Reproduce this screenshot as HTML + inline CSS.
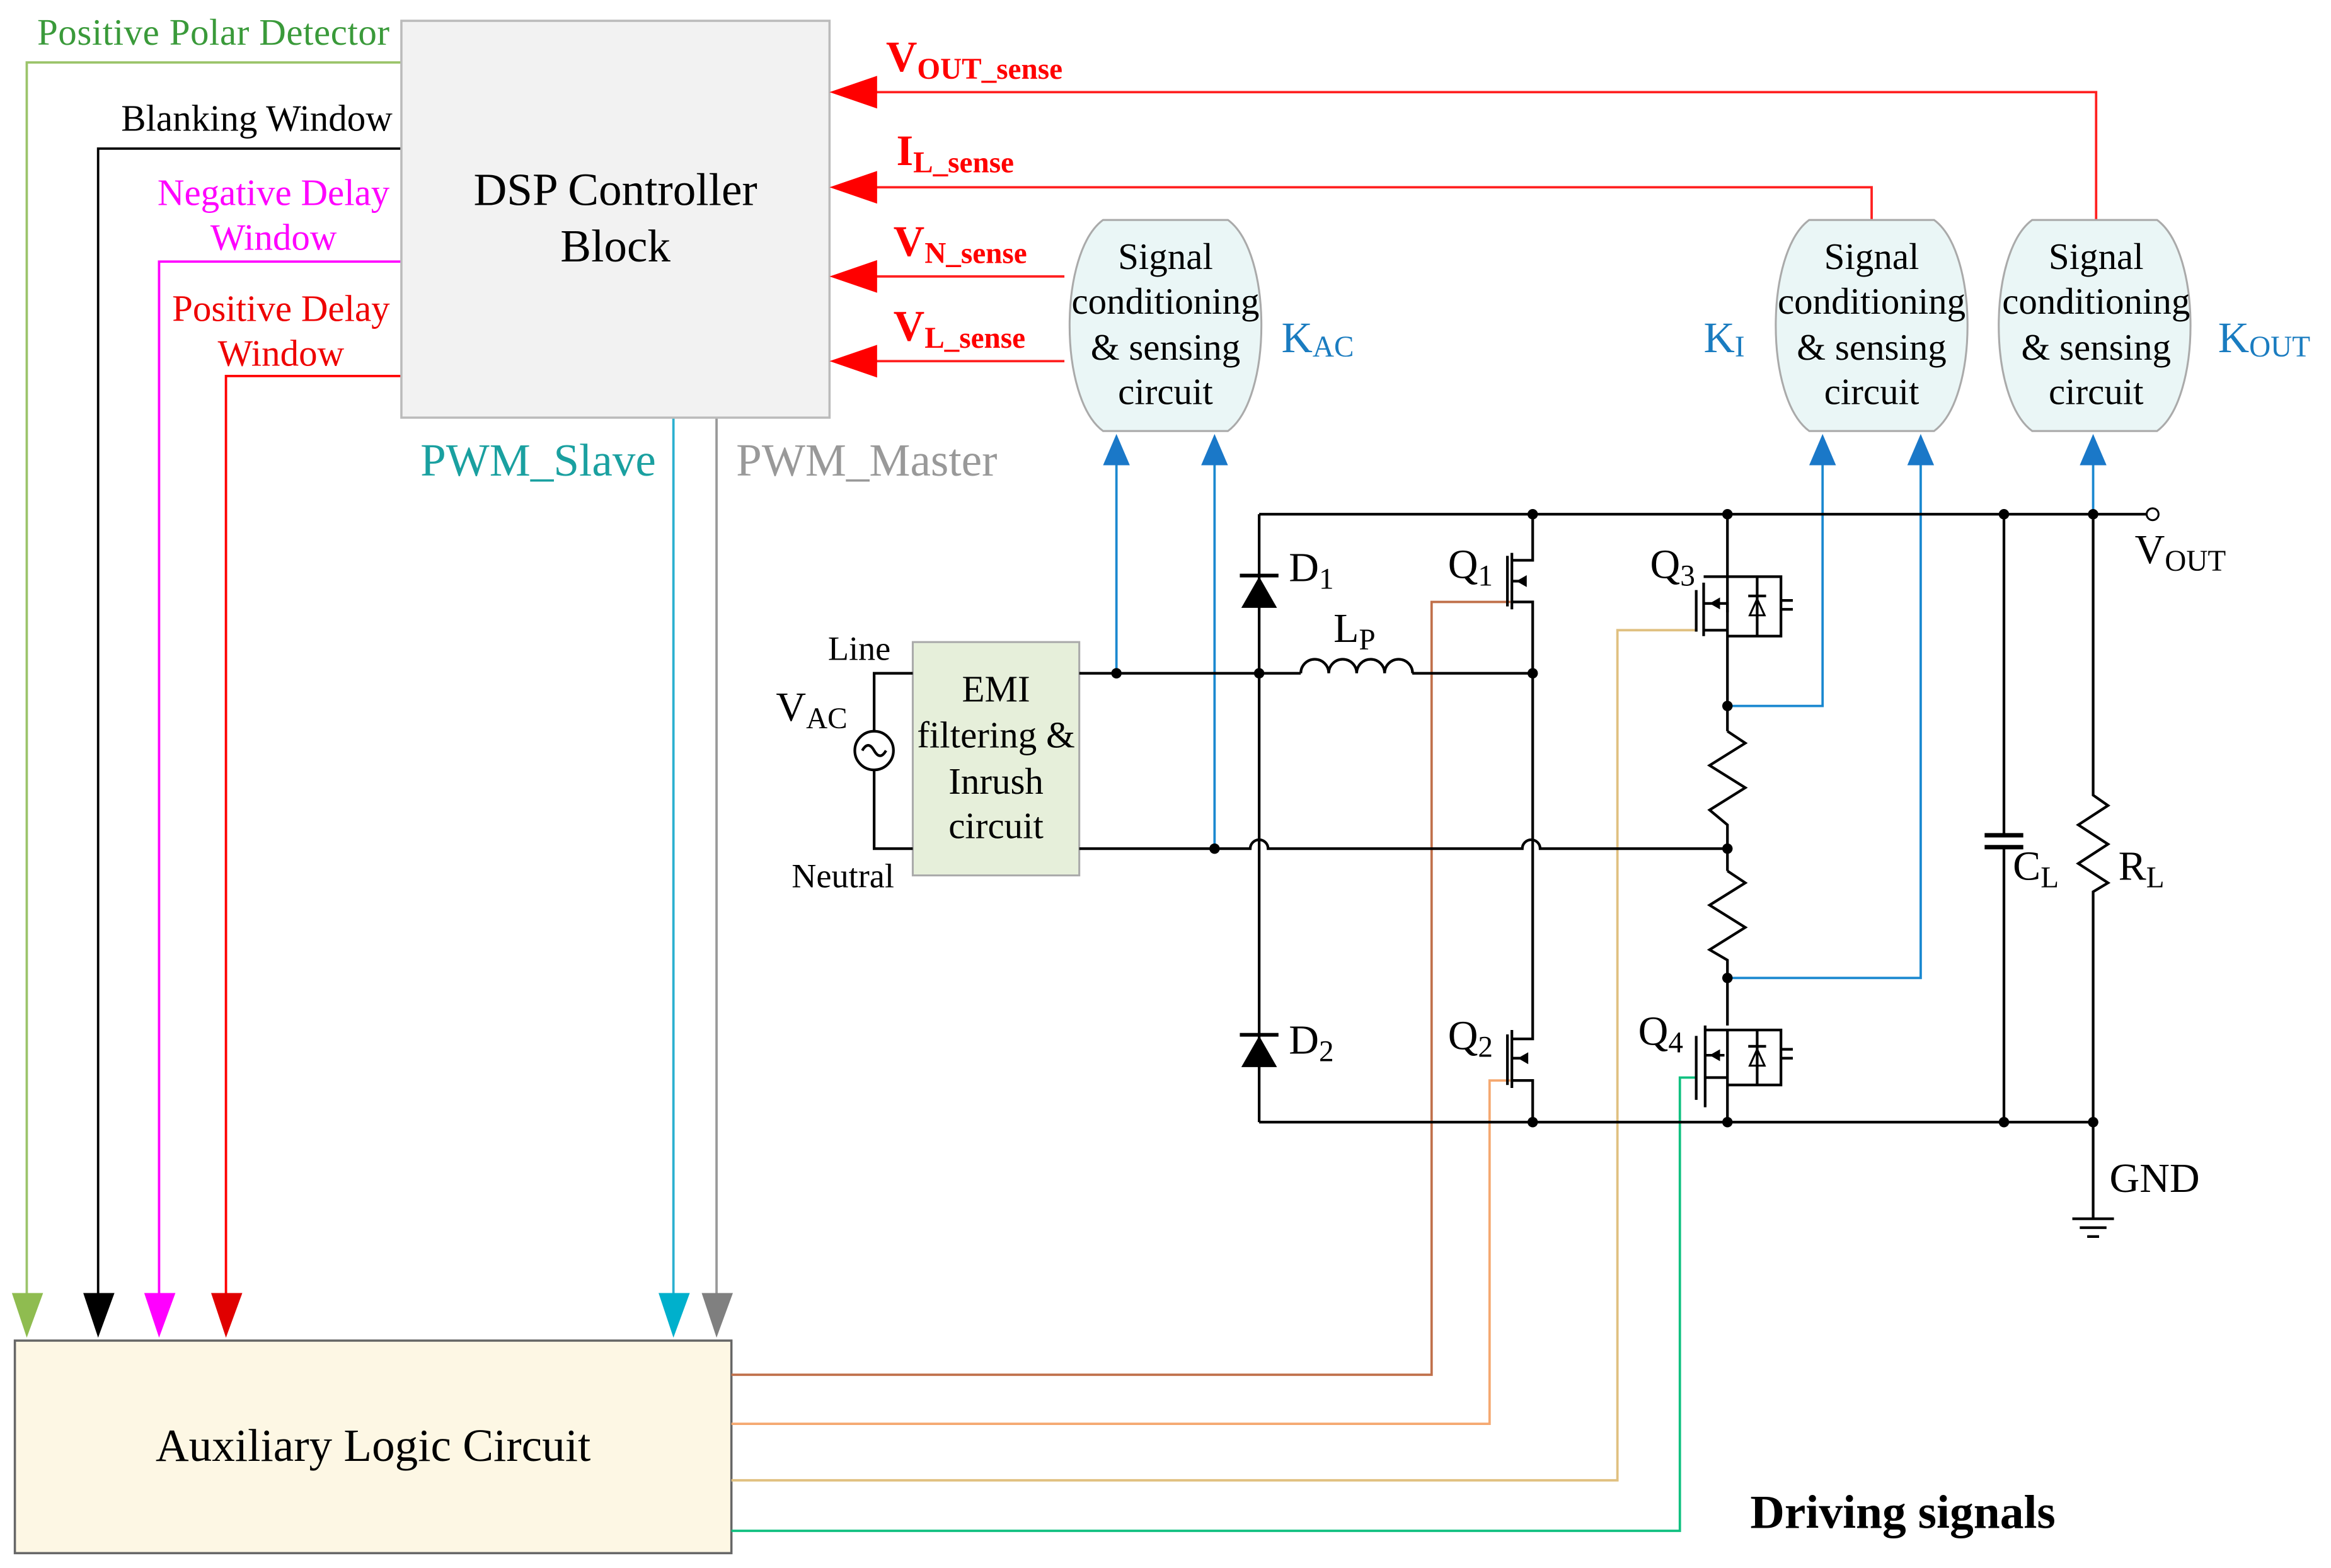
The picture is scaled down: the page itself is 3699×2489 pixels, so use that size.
<!DOCTYPE html>
<html><head><meta charset="utf-8"><style>
html,body{margin:0;padding:0;background:#fff}
svg{display:block}
text{font-family:"Liberation Serif",serif}
</style></head><body>
<svg width="3699" height="2489" viewBox="0 0 1568 1055" preserveAspectRatio="none" xmlns="http://www.w3.org/2000/svg" font-family="Liberation Serif, serif">
<rect width="1568" height="1055" fill="#fff"/>
<g fill="none" stroke-width="1.6">
<polyline points="270,42 18,42 18,872" stroke="#9bc46a"/>
<polyline points="270,100 66,100 66,872" stroke="#000"/>
<polyline points="270,176 107,176 107,872" stroke="#ff00ff"/>
<polyline points="270,253 152,253 152,872" stroke="#ff0000"/>
<line x1="453" y1="281" x2="453" y2="872" stroke="#2ab0d0"/>
<line x1="482" y1="281" x2="482" y2="872" stroke="#999"/>
</g>
<polygon points="8,870 29,870 18,900" fill="#8fbc50"/>
<polygon points="56,870 77,870 66,900" fill="#000"/>
<polygon points="97,870 118,870 107,900" fill="#ff00ff"/>
<polygon points="142,870 163,870 152,900" fill="#e00000"/>
<polygon points="443,870 464,870 453,900" fill="#00b0cc"/>
<polygon points="472,870 493,870 482,900" fill="#808080"/>
<rect x="270" y="14" width="288" height="267" fill="#f2f2f2" stroke="#bbb" stroke-width="1.5"/>
<text x="414" y="138" font-size="31" text-anchor="middle">DSP Controller</text>
<text x="414" y="176" font-size="31" text-anchor="middle">Block</text>
<text x="25" y="30" font-size="25" fill="#3a9a3a" textLength="237">Positive Polar Detector</text>
<text x="264" y="88" font-size="25" text-anchor="end">Blanking Window</text>
<text x="184" y="138" font-size="25" fill="#ff00ff" text-anchor="middle">Negative Delay</text>
<text x="184" y="168" font-size="25" fill="#ff00ff" text-anchor="middle">Window</text>
<text x="189" y="216" font-size="25" fill="#ee0000" text-anchor="middle">Positive Delay</text>
<text x="189" y="246" font-size="25" fill="#ee0000" text-anchor="middle">Window</text>
<text x="362" y="320" font-size="31" fill="#1aa0a0" text-anchor="middle">PWM_Slave</text>
<text x="583" y="320" font-size="31" fill="#999" text-anchor="middle">PWM_Master</text>
<rect x="10" y="902" width="482" height="143" fill="#fdf7e4" stroke="#666" stroke-width="1.5"/>
<text x="251" y="983" font-size="31" text-anchor="middle">Auxiliary Logic Circuit</text>
<text x="1280" y="1028" font-size="32" font-weight="bold" text-anchor="middle">Driving signals</text>
<g fill="none" stroke="#ff2020" stroke-width="1.6">
<polyline points="585,62 1410,62 1410,148"/>
<polyline points="585,126 1259,126 1259,148"/>
<line x1="585" y1="186" x2="716" y2="186"/>
<line x1="585" y1="243" x2="716" y2="243"/>
</g>
<g fill="#ff0000">
<polygon points="558,62 590,51 590,73"/>
<polygon points="558,126 590,115 590,137"/>
<polygon points="558,186 590,175 590,197"/>
<polygon points="558,243 590,232 590,254"/>
</g>
<g fill="#ff0000" font-weight="bold">
<text x="596" y="48" font-size="29">V<tspan font-size="20" dy="5">OUT_sense</tspan></text>
<text x="603" y="111" font-size="29">I<tspan font-size="20" dy="5">L_sense</tspan></text>
<text x="601" y="172" font-size="29">V<tspan font-size="20" dy="5">N_sense</tspan></text>
<text x="601" y="229" font-size="29">V<tspan font-size="20" dy="5">L_sense</tspan></text>
</g>
<g fill="#eaf6f6" stroke="#aaa" stroke-width="1.3">
<path d="M742,148 L826,148 C856,170 856,268 826,290 L742,290 C712,268 712,170 742,148 Z"/>
<path d="M1217,148 L1301,148 C1331,170 1331,268 1301,290 L1217,290 C1187,268 1187,170 1217,148 Z"/>
<path d="M1367,148 L1451,148 C1481,170 1481,268 1451,290 L1367,290 C1337,268 1337,170 1367,148 Z"/>
</g>
<g font-size="25" text-anchor="middle">
<text x="784" y="181">Signal</text><text x="784" y="211">conditioning</text><text x="784" y="242">&amp; sensing</text><text x="784" y="272">circuit</text>
<text x="1259" y="181">Signal</text><text x="1259" y="211">conditioning</text><text x="1259" y="242">&amp; sensing</text><text x="1259" y="272">circuit</text>
<text x="1410" y="181">Signal</text><text x="1410" y="211">conditioning</text><text x="1410" y="242">&amp; sensing</text><text x="1410" y="272">circuit</text>
</g>
<g fill="#1a7cc0" font-size="29">
<text x="862" y="237">K<tspan font-size="20" dy="3">AC</tspan></text>
<text x="1146" y="237">K<tspan font-size="20" dy="3">I</tspan></text>
<text x="1492" y="237">K<tspan font-size="20" dy="3">OUT</tspan></text>
</g>
<g fill="none" stroke="#1a88d0" stroke-width="1.6">
<line x1="751" y1="310" x2="751" y2="453"/>
<line x1="817" y1="310" x2="817" y2="571"/>
<polyline points="1226,310 1226,475 1162,475"/>
<polyline points="1292,310 1292,658 1162,658"/>
<line x1="1408" y1="310" x2="1408" y2="346"/>
</g>
<g fill="#1a78c8">
<polygon points="751,292 742,313 760,313"/>
<polygon points="817,292 808,313 826,313"/>
<polygon points="1226,292 1217,313 1235,313"/>
<polygon points="1292,292 1283,313 1301,313"/>
<polygon points="1408,292 1399,313 1417,313"/>
</g>
<g fill="none" stroke-width="1.6">
<polyline points="492,925 963,925 963,405 1016,405" stroke="#c0704a"/>
<polyline points="492,958 1002,958 1002,727 1016,727" stroke="#f5a870"/>
<polyline points="492,996 1088,996 1088,424 1141,424" stroke="#e0c080"/>
<polyline points="492,1030 1130,1030 1130,725 1141,725" stroke="#10c080"/>
</g>
<rect x="614" y="432" width="112" height="157" fill="#e6efda" stroke="#aaa" stroke-width="1.3"/>
<g font-size="25" text-anchor="middle">
<text x="670" y="472">EMI</text><text x="670" y="503">filtering &amp;</text><text x="670" y="534">Inrush</text><text x="670" y="564">circuit</text>
</g>
<g fill="none" stroke="#000" stroke-width="1.8">
<polyline points="614,453 588,453 588,492"/>
<polyline points="614,571 588,571 588,518"/>
<circle cx="588" cy="505" r="13"/>
<path d="M580,505 q4,-7 8,0 q4,7 8,0"/>
<line x1="847" y1="346" x2="1445" y2="346"/>
<line x1="847" y1="346" x2="847" y2="755"/>
<line x1="847" y1="755" x2="1408" y2="755"/>
<line x1="726" y1="453" x2="875" y2="453"/>
<path d="M875,453 a9.4,9.4 0 0 1 18.8,0 a9.4,9.4 0 0 1 18.8,0 a9.4,9.4 0 0 1 18.8,0 a9.4,9.4 0 0 1 18.8,0"/>
<line x1="950" y1="453" x2="1031" y2="453"/>
<path d="M726,571 L841,571 a6,6 0 0 1 12,0 L1024,571 a6,6 0 0 1 12,0 L1162,571"/>
<polyline points="1031,346 1031,377 1017,377"/>
<polyline points="1017,405 1031,405 1031,453"/>
<line x1="1017" y1="372" x2="1017" y2="410"/>
<line x1="1014" y1="374" x2="1014" y2="408"/>
<line x1="1017" y1="391" x2="1026" y2="391"/>
<polyline points="1031,453 1031,699 1017,699"/>
<polyline points="1017,727 1031,727 1031,755"/>
<line x1="1017" y1="693" x2="1017" y2="732"/>
<line x1="1014" y1="696" x2="1014" y2="730"/>
<line x1="1017" y1="712" x2="1026" y2="712"/>
<line x1="1162" y1="346" x2="1162" y2="492"/>
<polyline points="1146,388 1198,388 1198,428 1162,428"/>
<polyline points="1146,424 1162,424"/>
<line x1="1146" y1="392" x2="1146" y2="428"/>
<line x1="1141" y1="397" x2="1141" y2="425"/>
<polyline points="1146,406 1162,406 1162,412"/>
<line x1="1182" y1="388" x2="1182" y2="428"/>
<line x1="1198" y1="404" x2="1206" y2="404"/><line x1="1198" y1="410" x2="1206" y2="410"/>
<line x1="1176" y1="401" x2="1188" y2="401"/>
<polyline points="1162,492 1174,500 1150,515 1174,530 1150,545 1162,555 1162,586"/>
<polyline points="1162,586 1174,594 1150,609 1174,624 1150,639 1162,646 1162,690"/>
<polyline points="1147,693 1198,693 1198,730 1162,730"/>
<line x1="1162" y1="693" x2="1162" y2="755"/>
<line x1="1147" y1="725" x2="1162" y2="725"/>
<line x1="1147" y1="690" x2="1147" y2="745"/>
<line x1="1141" y1="697" x2="1141" y2="740"/>
<line x1="1147" y1="710" x2="1160" y2="710"/>
<line x1="1182" y1="693" x2="1182" y2="730"/>
<line x1="1198" y1="706" x2="1206" y2="706"/><line x1="1198" y1="712" x2="1206" y2="712"/>
<line x1="1176" y1="704" x2="1188" y2="704"/>
<line x1="1348" y1="346" x2="1348" y2="562"/>
<line x1="1348" y1="570" x2="1348" y2="755"/>
<line x1="1335" y1="562" x2="1361" y2="562" stroke-width="3"/>
<line x1="1335" y1="570" x2="1361" y2="570" stroke-width="3"/>
<polyline points="1408,346 1408,535 1418,542 1398,555 1418,568 1398,581 1418,594 1408,600 1408,755"/>
<line x1="1408" y1="755" x2="1408" y2="820"/>
<line x1="1394" y1="820" x2="1422" y2="820"/>
<line x1="1399" y1="826" x2="1417" y2="826"/>
<line x1="1404" y1="832" x2="1412" y2="832"/>
</g>
<circle cx="1448" cy="346" r="4" fill="#fff" stroke="#000" stroke-width="1.3"/>
<g fill="#000">
<polygon points="847,388 835,409 859,409"/>
<rect x="834" y="386" width="26" height="2.5"/>
<polygon points="847,697 835,718 859,718"/>
<rect x="834" y="695" width="26" height="2.5"/>
<polygon points="1020,391 1027,387 1027,395"/>
<polygon points="1021,712 1028,708 1028,716"/>
<polygon points="1150,406 1157,402 1157,410"/>
<polygon points="1150,710 1157,706 1157,714"/>
</g>
<g fill="none" stroke="#000" stroke-width="1.3">
<polygon points="1182,403 1177,414 1187,414"/>
<polygon points="1182,706 1177,717 1187,717"/>
</g>
<g fill="#000">
<circle cx="1031" cy="346" r="3.5"/><circle cx="1162" cy="346" r="3.5"/><circle cx="1348" cy="346" r="3.5"/><circle cx="1408" cy="346" r="3.5"/>
<circle cx="751" cy="453" r="3.5"/><circle cx="847" cy="453" r="3.5"/><circle cx="1031" cy="453" r="3.5"/>
<circle cx="817" cy="571" r="3.5"/><circle cx="1162" cy="571" r="3.5"/><circle cx="1162" cy="475" r="3.5"/><circle cx="1162" cy="658" r="3.5"/>
<circle cx="1031" cy="755" r="3.5"/><circle cx="1162" cy="755" r="3.5"/><circle cx="1348" cy="755" r="3.5"/><circle cx="1408" cy="755" r="3.5"/>
</g>
<g font-size="28">
<text x="867" y="391">D<tspan font-size="20" dy="5">1</tspan></text>
<text x="867" y="709">D<tspan font-size="20" dy="5">2</tspan></text>
<text x="897" y="432">L<tspan font-size="20" dy="5">P</tspan></text>
<text x="974" y="389">Q<tspan font-size="20" dy="5">1</tspan></text>
<text x="974" y="706">Q<tspan font-size="20" dy="5">2</tspan></text>
<text x="1110" y="389">Q<tspan font-size="20" dy="5">3</tspan></text>
<text x="1102" y="703">Q<tspan font-size="20" dy="5">4</tspan></text>
<text x="1354" y="592">C<tspan font-size="20" dy="5">L</tspan></text>
<text x="1425" y="592">R<tspan font-size="20" dy="5">L</tspan></text>
<text x="1436" y="379">V<tspan font-size="20" dy="5">OUT</tspan></text>
<text x="1419" y="802">GND</text>
<text x="522" y="485">V<tspan font-size="20" dy="5">AC</tspan></text>
</g>
<text x="578" y="444" font-size="23" text-anchor="middle">Line</text>
<text x="567" y="597" font-size="23" text-anchor="middle">Neutral</text>
</svg>
</body></html>
